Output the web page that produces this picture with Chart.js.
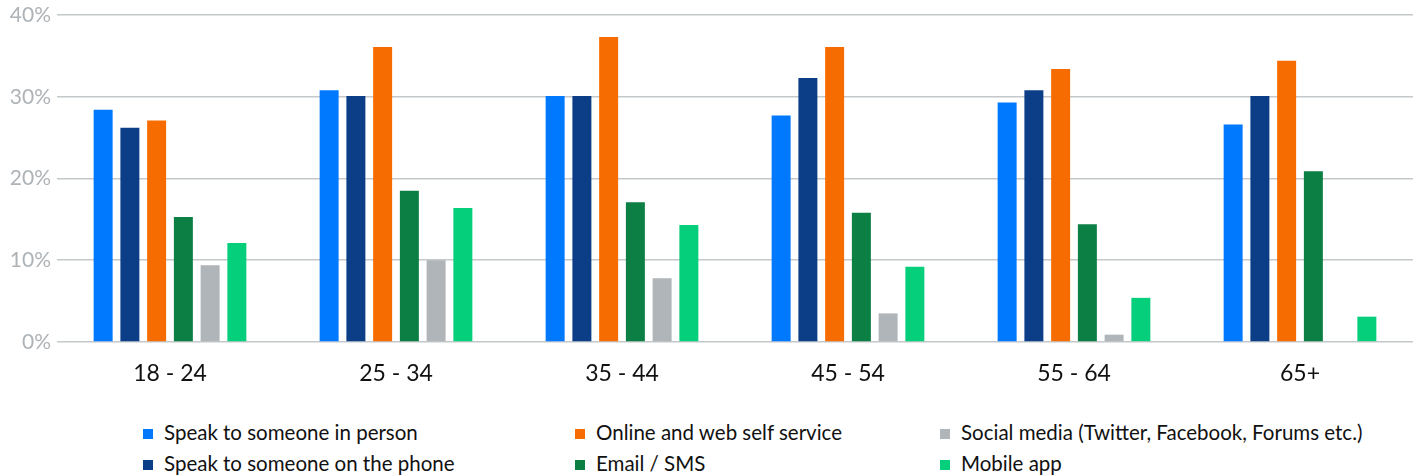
<!DOCTYPE html>
<html>
<head>
<meta charset="utf-8">
<script src="https://cdn.jsdelivr.net/npm/chart.js@4"></script>
<style>
  html, body { margin: 0; padding: 0; background: #fff; }
  #wrap { position: relative; width: 1416px; height: 476px; font-family: Lato, "Noto Sans", sans-serif; }
  #box { position: absolute; left: 0; top: 0; width: 1416px; height: 400px; }
  #legend { position: absolute; left: 0; top: 420px; width: 1416px; }
  .item { position: absolute; font-size: 20.5px; color: #111; white-space: nowrap; line-height: 24px; }
  .item span { display: inline-block; width: 10px; height: 10px; margin-right: 11px; vertical-align: 1px; }
</style>
</head>
<body>
<div id="wrap">
  <div id="box"><canvas id="chart"></canvas></div>
  <div id="legend"></div>
</div>
<script>
// age groups
const ageGroups = ["18 - 24", "25 - 34", "35 - 44", "45 - 54", "55 - 64", "65+"];

// share of respondents (%) per channel
const inPerson = [28.4, 30.8, 30.1, 27.7, 29.3, 26.6];
const phone = [26.2, 30.1, 30.1, 32.3, 30.8, 30.1];
const online = [27.1, 36.1, 37.3, 36.1, 33.4, 34.4];
const emailSms = [15.3, 18.5, 17.1, 15.8, 14.4, 20.9];
const socialMedia = [9.4, 10.0, 7.8, 3.5, 0.9, 0];
const mobileApp = [12.1, 16.4, 14.3, 9.2, 5.4, 3.1];

const yTicks = [0, 10, 20, 30, 40];

const series = [
  { label: "Speak to someone in person", data: inPerson, color: "#0079FF" },
  { label: "Speak to someone on the phone", data: phone, color: "#0C3E87" },
  { label: "Online and web self service", data: online, color: "#F76C00" },
  { label: "Email / SMS", data: emailSms, color: "#0C7F45" },
  { label: "Social media (Twitter, Facebook, Forums etc.)", data: socialMedia, color: "#AFB5B8" },
  { label: "Mobile app", data: mobileApp, color: "#06CF7C" },
];

const ctx = document.getElementById("chart").getContext("2d");
new Chart(ctx, {
  type: "bar",
  data: {
    labels: ageGroups,
    datasets: series.map(function (s) {
      return {
        label: s.label,
        data: s.data,
        backgroundColor: s.color,
        categoryPercentage: 0.71,
        barPercentage: 0.71,
      };
    }),
  },
  options: {
    responsive: true,
    maintainAspectRatio: false,
    animation: false,
    layout: { padding: { top: 15, right: 3, left: 0, bottom: 0 } },
    plugins: {
      legend: { display: false },
      tooltip: { enabled: false },
    },
    scales: {
      x: {
        grid: { display: false, drawTicks: false },
        border: { display: false },
        ticks: {
          color: "#111",
          font: { family: "Lato", size: 23 },
          padding: 18,
        },
        afterFit: function (scale) {
          scale.height = 58;
        },
      },
      y: {
        min: 0,
        max: 40,
        afterBuildTicks: function (scale) {
          scale.ticks = yTicks.map(function (v) { return { value: v }; });
        },
        grid: { color: "#C3C8CB", lineWidth: 1.6, drawTicks: false },
        border: { display: false },
        ticks: {
          color: "#AEB3B7",
          font: { family: "Lato", size: 21 },
          padding: 6,
          callback: function (v) { return v + "%"; },
        },
        afterFit: function (scale) {
          scale.width = 57;
          scale.paddingTop = 0;
          scale.paddingBottom = 0;
        },
      },
    },
  },
});

// legend: 3 columns, filled column by column
const legendCols = [143, 575, 940];
const legendRows = [0, 31];
const legend = document.getElementById("legend");
series.forEach(function (s, k) {
  const el = document.createElement("div");
  el.className = "item";
  el.style.left = legendCols[Math.floor(k / 2)] + "px";
  el.style.top = legendRows[k % 2] + "px";
  el.innerHTML = '<span style="background:' + s.color + '"></span>' + s.label;
  legend.appendChild(el);
});
</script>
</body>
</html>
